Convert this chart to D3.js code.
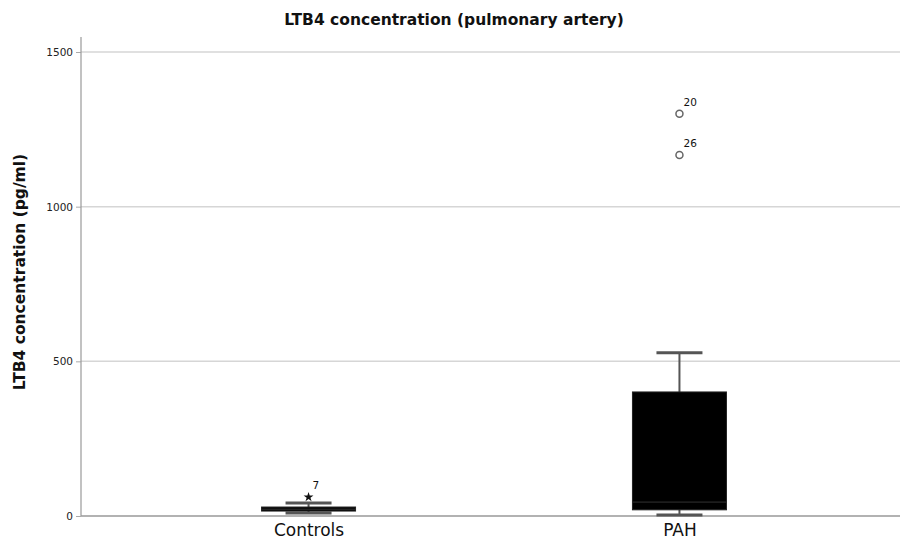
<!DOCTYPE html>
<html><head><meta charset="utf-8">
<script src="https://cdn.jsdelivr.net/npm/d3@7"></script>
<style>body{margin:0;background:#fff}svg{display:block}</style>
</head><body>
<svg id="chart" width="900" height="541"></svg>
<script>
const categories = ["Controls", "PAH"];
const q1 = [16, 20];
const median = [22, 45];
const q3 = [29, 401];
const whiskerLow = [10, 3];
const whiskerHigh = [42, 528];
const outlierValues = [61, 1300, 1167];
const outlierGroup = ["Controls", "PAH", "PAH"];
const outlierLabels = ["7", "20", "26"];
const outlierShape = ["star", "circle", "circle"];
const yTicks = [0, 500, 1000, 1500];

(function(){
const svg = d3.select("#chart");
const font = "'DejaVu Sans', Verdana, sans-serif";
const pLeft = 81, pRight = 900, pTop = 37, pBottom = 516;

const y = d3.scaleLinear().domain([0, 1500]).range([pBottom, 52]);
const x = d3.scalePoint().domain(categories).range([86, 902]).padding(0.6);
const boxW = 94, capW = 46;

// gridlines
svg.append("g").selectAll("line").data(yTicks.filter(d => d > 0)).join("line")
  .attr("x1", pLeft).attr("x2", pRight).attr("y1", d => y(d)).attr("y2", d => y(d))
  .attr("stroke", "#d6d6d6").attr("stroke-width", 1.5);

// axes
const yAxis = svg.append("g").attr("transform", `translate(${pLeft},0)`)
  .call(d3.axisLeft(y).tickValues(yTicks).tickSize(5).tickPadding(3).tickFormat(d3.format("d")));
yAxis.select(".domain").remove();
yAxis.selectAll(".tick line").attr("stroke", "#aaa");
yAxis.selectAll("text").attr("font-family", font).attr("font-size", 10.5).attr("fill", "#222");
svg.append("line").attr("x1", pLeft).attr("x2", pLeft).attr("y1", pTop).attr("y2", pBottom)
  .attr("stroke", "#999").attr("stroke-width", 1.2);
svg.append("line").attr("x1", pLeft).attr("x2", pRight).attr("y1", pBottom).attr("y2", pBottom)
  .attr("stroke", "#999").attr("stroke-width", 1.5);

const xAxis = svg.append("g").attr("transform", `translate(0,${pBottom})`)
  .call(d3.axisBottom(x).tickSize(0).tickPadding(8));
xAxis.select(".domain").remove();
xAxis.selectAll("text").attr("font-family", font).attr("font-size", 17).attr("fill", "#111");

// boxes
const data = categories.map((c, i) => ({c, q1: q1[i], med: median[i], q3: q3[i], lo: whiskerLow[i], hi: whiskerHigh[i]}));
const g = svg.append("g");
data.forEach(d => {
  const cx = x(d.c);
  g.append("line").attr("x1", cx).attr("x2", cx).attr("y1", y(d.q3)).attr("y2", y(d.hi)).attr("stroke", "#555").attr("stroke-width", 2);
  g.append("line").attr("x1", cx).attr("x2", cx).attr("y1", y(d.q1)).attr("y2", y(d.lo)).attr("stroke", "#555").attr("stroke-width", 2);
  g.append("line").attr("x1", cx - capW/2).attr("x2", cx + capW/2).attr("y1", y(d.hi)).attr("y2", y(d.hi)).attr("stroke", "#555").attr("stroke-width", 3);
  g.append("line").attr("x1", cx - capW/2).attr("x2", cx + capW/2).attr("y1", y(d.lo)).attr("y2", y(d.lo)).attr("stroke", "#555").attr("stroke-width", 3);
  g.append("rect").attr("x", cx - boxW/2).attr("width", boxW)
    .attr("y", y(d.q3)).attr("height", Math.max(3, y(d.q1) - y(d.q3)))
    .attr("fill", "#000").attr("stroke", "#222").attr("stroke-width", 1);
  g.append("line").attr("x1", cx - boxW/2).attr("x2", cx + boxW/2).attr("y1", y(d.med)).attr("y2", y(d.med))
    .attr("stroke", "#333").attr("stroke-width", 1);
});

// outliers
outlierValues.forEach((v, i) => {
  const cx = x(outlierGroup[i]), cy = y(v);
  if (outlierShape[i] === "circle") {
    svg.append("circle").attr("cx", cx).attr("cy", cy).attr("r", 3.5)
      .attr("fill", "#fff").attr("stroke", "#666").attr("stroke-width", 1.5);
  } else {
    svg.append("path").attr("d", d3.symbol(d3.symbolStar, 30)()).attr("transform", `translate(${cx},${cy})`).attr("fill", "#111");
  }
  svg.append("text").attr("x", cx + 4).attr("y", cy - 8).text(outlierLabels[i])
    .attr("font-family", font).attr("font-size", 10.5).attr("fill", "#111");
});

// titles
svg.append("text").attr("x", 454).attr("y", 25).attr("text-anchor", "middle")
  .attr("font-family", font).attr("font-weight", "bold").attr("font-size", 15.5).attr("fill", "#111")
  .text("LTB4 concentration (pulmonary artery)");
svg.append("text").attr("transform", `translate(25,272) rotate(-90)`).attr("text-anchor", "middle")
  .attr("font-family", font).attr("font-weight", "bold").attr("font-size", 15.5).attr("fill", "#111")
  .text("LTB4 concentration (pg/ml)");
})();
</script>
</body></html>
